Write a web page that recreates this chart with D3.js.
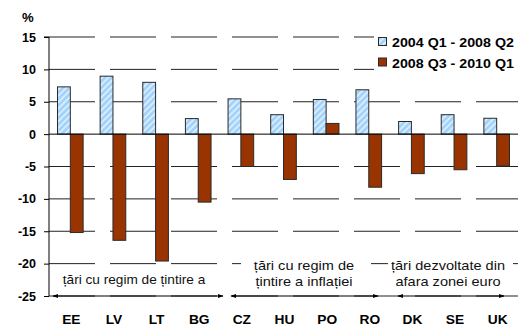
<!DOCTYPE html>
<html>
<head>
<meta charset="utf-8">
<script src="https://cdn.jsdelivr.net/npm/d3@7"></script>
<style>
  html, body { margin: 0; padding: 0; background: #fff; }
  svg { display: block; font-family: "Liberation Sans", Arial, sans-serif; }
</style>
</head>
<body>
<svg id="chart" width="519" height="326"></svg>
<script>
// Country codes along the x axis
const categories = ["EE", "LV", "LT", "BG", "CZ", "HU", "PO", "RO", "DK", "SE", "UK"];
// Period series (percent)
const seriesNames = ["2004 Q1 - 2008 Q2", "2008 Q3 - 2010 Q1"];
const valuesBoom = [7.3, 8.95, 8.0, 2.4, 5.45, 3.0, 5.35, 6.85, 1.95, 3.0, 2.45];
const valuesBust = [-15.2, -16.4, -19.6, -10.5, -5.0, -7.0, 1.65, -8.2, -6.1, -5.5, -4.9];
// Y axis ticks
const yTicks = [15, 10, 5, 0, -5, -10, -15, -20, -25];
// Country groups drawn as arrows under the plot
const groups = [
  { first: "EE", last: "BG", lines: ["țări cu regim de țintire a"] },
  { first: "CZ", last: "RO", lines: ["țări cu regim de", "țintire a inflației"] },
  { first: "DK", last: "UK", lines: ["țări dezvoltate din", "afara zonei euro"] }
];

const svg = d3.select("#chart");
const plotLeft = 49, plotRight = 518, plotTop = 37, plotBottom = 296;

const x = d3.scaleBand().domain(categories).range([plotLeft, plotRight]).padding(0);
const xs = d3.scaleBand().domain(seriesNames).range([8.5, x.bandwidth() - 8.5]);
const y = d3.scaleLinear().domain([-25, 15]).range([plotBottom, plotTop]);

// text with a slight horizontal stretch
function wideText(parent, tx, ty, str, size, bold, sx, anchor) {
  return parent.append("text")
    .attr("transform", `translate(${tx},${ty}) scale(${sx},1)`)
    .attr("font-size", size).attr("font-weight", bold ? "bold" : "normal")
    .attr("text-anchor", anchor || "start").attr("fill", "#000")
    .text(str);
}

// hatched light-blue fill
const defs = svg.append("defs");
const pat = defs.append("pattern")
  .attr("id", "hatch").attr("patternUnits", "userSpaceOnUse")
  .attr("width", 4.5).attr("height", 4.5)
  .attr("patternTransform", "rotate(45)");
pat.append("rect").attr("width", 4.5).attr("height", 4.5).attr("fill", "#a3d2fb");
pat.append("line").attr("x1", 1).attr("x2", 1).attr("y1", 0).attr("y2", 4.5)
  .attr("stroke", "#eaf5ff").attr("stroke-width", 1.4);

const colors = ["url(#hatch)", "#993300"];

// gridlines
svg.append("g").selectAll("line").data(yTicks.filter(d => d !== 0)).join("line")
  .attr("x1", plotLeft).attr("x2", plotRight)
  .attr("y1", d => y(d)).attr("y2", d => y(d))
  .attr("stroke", "#222").attr("stroke-width", 1)
  .attr("stroke-dasharray", "46,15");

// y axis
const yAxis = d3.axisLeft(y).tickValues(yTicks).tickSize(5).tickPadding(8).tickFormat(d3.format("d"));
const gy = svg.append("g").attr("transform", `translate(${plotLeft},0)`).call(yAxis);
gy.select(".domain").attr("stroke", "#000").attr("d", `M-5,${plotTop}H0V${plotBottom}`);
gy.selectAll(".tick line").attr("stroke", "#000");
gy.selectAll(".tick text").attr("font-size", 12.5).attr("font-weight", "bold")
  .attr("font-family", "Liberation Sans, Arial, sans-serif").attr("fill", "#000")
  .text(d => d);

wideText(svg, 22, 22, "%", 12.5, true, 1.05);

// bars
const rows = categories.map((c, i) => ({ c, v: [valuesBoom[i], valuesBust[i]] }));
rows.forEach(r => {
  r.v.forEach((v, k) => {
    svg.append("rect")
      .attr("x", x(r.c) + xs(seriesNames[k]))
      .attr("width", xs.bandwidth())
      .attr("y", y(Math.max(0, v)))
      .attr("height", Math.abs(y(v) - y(0)))
      .attr("fill", colors[k])
      .attr("stroke", "#2a2a2a").attr("stroke-width", 1);
  });
});

// zero line
svg.append("line").attr("x1", plotLeft).attr("x2", plotRight)
  .attr("y1", y(0)).attr("y2", y(0)).attr("stroke", "#000");

// category labels
categories.forEach(c => {
  wideText(svg, x(c) + x.bandwidth() / 2 + 1, 324, c, 13, true, 1.06, "middle");
});

// group labels and arrows
defs.append("marker").attr("id", "ah").attr("viewBox", "0 0 10 10")
  .attr("refX", 9).attr("refY", 5).attr("markerWidth", 5).attr("markerHeight", 5)
  .attr("orient", "auto-start-reverse")
  .append("path").attr("d", "M0,1.5L10,5L0,8.5Z").attr("fill", "#000");

const arrowSpans = [[53, 223], [231, 378], [398, 504]];
const boxSpans = [[56, 222, 267, 25], [241, 371, 254, 38], [388, 513, 254, 38]];
const textCenters = [134, 304, 448];

groups.forEach((g, i) => {
  const [bx0, bx1, by, bh] = boxSpans[i];
  svg.append("rect").attr("x", bx0).attr("width", bx1 - bx0)
    .attr("y", by).attr("height", bh).attr("fill", "#fff");
  const two = g.lines.length > 1;
  g.lines.forEach((t, j) => {
    wideText(svg, textCenters[i], two ? 270 + j * 16 : 284, t, 13, false, i === 0 ? 1.05 : 1.12, "middle")
      .attr("fill", "#111");
  });
  const [ax0, ax1] = arrowSpans[i];
  svg.append("line").attr("x1", ax0).attr("x2", ax1).attr("y1", plotBottom).attr("y2", plotBottom)
    .attr("stroke", "#000").attr("stroke-width", 1.2)
    .attr("marker-start", "url(#ah)").attr("marker-end", "url(#ah)");
});

// legend
const lg = svg.append("g");
lg.append("rect").attr("x", 374).attr("y", 28).attr("width", 145).attr("height", 48).attr("fill", "#fff");
seriesNames.forEach((s, k) => {
  lg.append("rect").attr("x", 378.5).attr("y", 37.5 + k * 20.5).attr("width", 8).attr("height", 8)
    .attr("fill", colors[k]).attr("stroke", "#2a2a2a");
  wideText(lg, 392, 47 + k * 20.5, s, 12.5, true, 1.14);
});
</script>
</body>
</html>
